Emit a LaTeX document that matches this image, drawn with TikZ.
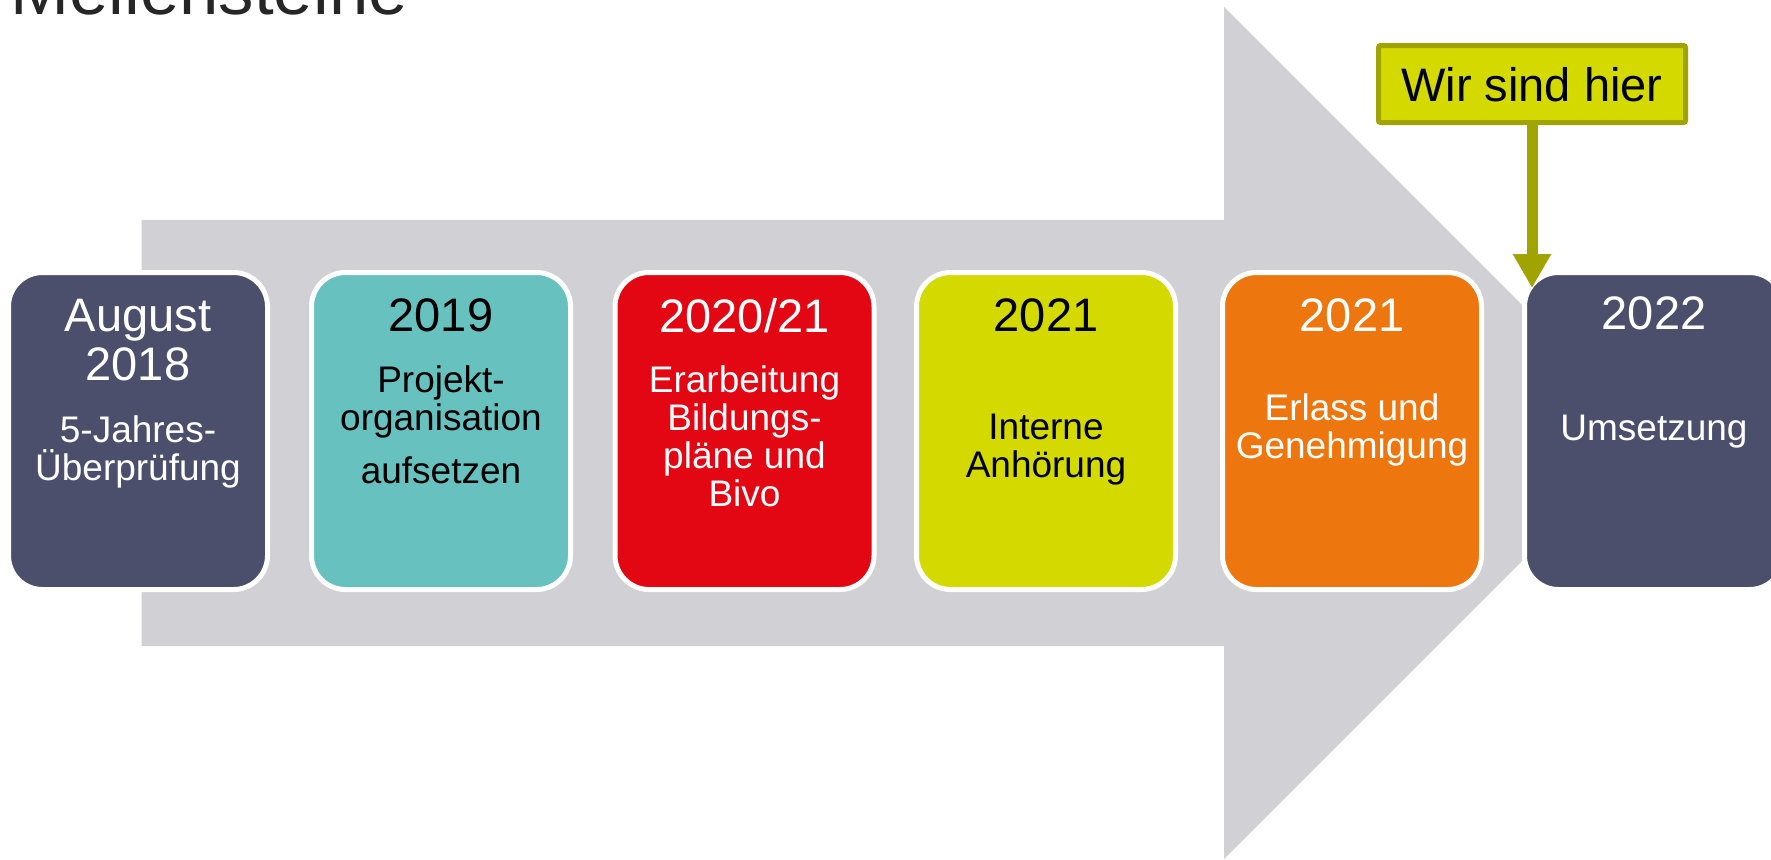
\documentclass[tikz,border=0pt]{standalone}
\usepackage{fontspec}
\setmainfont{Liberation Sans}
\usetikzlibrary{arrows.meta}
\definecolor{slate}{RGB}{75,79,107}
\definecolor{teal2}{RGB}{103,193,191}
\definecolor{red2}{RGB}{227,6,19}
\definecolor{lime2}{RGB}{212,217,0}
\definecolor{orange2}{RGB}{238,118,14}
\definecolor{olive2}{RGB}{160,163,0}
\definecolor{arrowgray}{RGB}{208,208,213}
\definecolor{titlegray}{RGB}{38,38,38}
\begin{document}
\begin{tikzpicture}[x=0.5pt,y=-0.5pt,
  mbox/.style={draw=white, line width=2.5pt, rounded corners=17pt,
    minimum width=129.5pt, minimum height=158.5pt, inner sep=0pt},
  yeartxt/.style={anchor=north, inner sep=0pt, align=center,
    font=\fontsize{23.5}{24.5}\selectfont},
  subtxt/.style={anchor=north, inner sep=0pt, align=center,
    font=\fontsize{18.5}{19}\selectfont},
]
\useasboundingbox (0,0) rectangle (1771,859);
\clip (0,0) rectangle (1771,859);
% big grey arrow
\fill[arrowgray] (141.7,220) -- (1224,220) -- (1224,7) -- (1650,433)
  -- (1224,859) -- (1224,646) -- (141.7,646) -- cycle;
% title
\node[anchor=base west, inner sep=0pt, text=titlegray,
  font=\fontsize{35.4}{40}\selectfont] (title) at (10,14) {Meilensteine};
% milestone boxes
\node[mbox, fill=slate]   (b1) at (138,431) {};
\node[mbox, fill=teal2]   (b2) at (441,431) {};
\node[mbox, fill=red2]    (b3) at (744.5,431) {};
\node[mbox, fill=lime2]   (b4) at (1046,431) {};
\node[mbox, fill=orange2] (b5) at (1352,431) {};
\node[mbox, fill=slate]   (b6) at (1654,431) {};
% years
\node[yeartxt, text=white] (y1) at (138,298.3) {August\\2018};
\node[yeartxt, text=black] (y2) at (441,298.3) {2019};
\node[yeartxt, text=white] (y3) at (744.5,298.3) {2020/21};
\node[yeartxt, text=black] (y4) at (1046,298.3) {2021};
\node[yeartxt, text=white] (y5) at (1352,298.3) {2021};
\node[yeartxt, text=white] (y6) at (1654,296.3) {2022};
% descriptions
\node[subtxt, text=white] (s1) at (138,415.5) {5-Jahres-\\Überprüfung};
\node[subtxt, text=black] (s2) at (441,365) {Projekt-\\organisation\\[7.5pt]aufsetzen};
\node[subtxt, text=white] (s3) at (744.5,365) {Erarbeitung\\Bildungs-\\pläne und\\Bivo};
\node[subtxt, text=black] (s4) at (1046,413.5) {Interne\\Anhörung};
\node[subtxt, text=white] (s5) at (1352,393.5) {Erlass und\\Genehmigung};
\node[subtxt, text=white] (s6) at (1654,415) {Umsetzung};
% callout
\node[draw=olive2, line width=2.5pt, fill=lime2, rounded corners=1pt,
  minimum width=153.5pt, minimum height=38.5pt, inner sep=0pt] (here) at (1532,84) {};
\node[anchor=base, inner sep=0pt, text=black,
  font=\fontsize{23.5}{24.5}\selectfont] (heretxt) at (1532,101.7) {Wir sind hier};
\coordinate (tip) at (1532,288);
\draw[olive2, line width=5.5pt, -{Triangle[width=18pt,length=17pt]}] (here.south) -- (tip);
\end{tikzpicture}
\end{document}
